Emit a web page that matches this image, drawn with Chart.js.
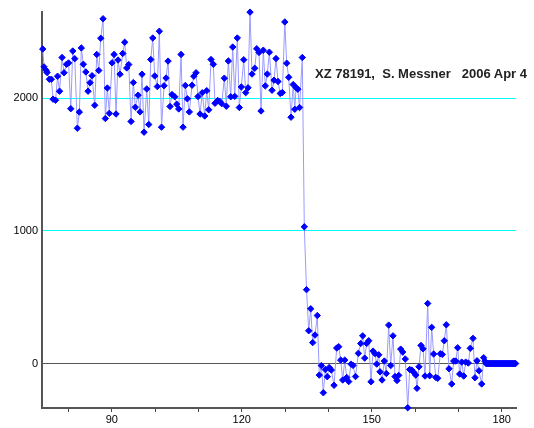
<!DOCTYPE html>
<html>
<head>
<meta charset="utf-8">
<script src="https://cdn.jsdelivr.net/npm/chart.js@4.4.1/dist/chart.umd.min.js"></script>
<style>
html, body { margin: 0; padding: 0; background: #fff; }
#wrap { position: relative; width: 534px; height: 428px; }
#note { position: absolute; left: 315px; top: 66px; font: bold 13px "Liberation Sans", Arial, sans-serif; color: #222; white-space: pre; }
</style>
</head>
<body>
<div id="wrap">
  <canvas id="lc" width="534" height="428"></canvas>
  <div id="note">XZ 78191,  S. Messner   2006 Apr 4</div>
</div>
<script>
var xVals = [
  74.07,74.37,74.84,75.07,75.6,76.06,76.45,77.03,77.49,77.95,
  78.53,78.99,79.57,80.03,80.54,81.0,81.46,82.06,82.52,82.98,
  83.44,84.02,84.53,84.99,85.45,86.07,86.54,87.0,87.46,87.99,
  88.52,88.98,89.44,90.07,90.53,90.99,91.45,91.91,92.54,92.99,
  93.46,93.92,94.45,94.98,95.44,96.07,96.53,96.99,97.45,98.07,
  98.54,99.0,99.46,99.92,100.52,100.98,101.49,102.07,102.53,102.99,
  103.45,103.91,104.54,105.0,105.46,105.99,106.45,106.98,107.44,107.91,
  108.53,108.94,109.45,109.91,110.37,110.9,111.46,111.92,112.38,112.91,
  113.44,113.83,114.46,114.92,115.38,115.98,116.44,116.91,117.46,117.92,
  118.38,118.98,119.44,119.91,120.46,120.92,121.45,121.91,122.37,123.0,
  123.46,123.99,124.45,124.98,125.44,125.9,126.37,126.99,127.45,127.91,
  128.37,128.9,129.37,129.94,130.38,130.84,131.37,131.88,132.25,132.53,
  132.94,133.34,133.98,134.44,134.95,
  135.46,135.92,136.38,136.91,137.44,137.9,138.37,138.83,139.29,139.75,
  140.21,140.68,141.3,141.92,142.38,142.84,143.31,143.77,144.23,144.69,
  145.22,145.68,146.26,146.91,147.46,147.92,148.38,148.84,149.31,149.84,
  150.3,150.76,151.15,151.62,151.91,152.38,152.91,153.37,153.92,154.38,
  154.91,155.38,155.84,156.23,156.69,157.15,157.75,158.31,158.77,159.23,
  159.69,160.15,160.45,160.91,161.37,161.84,162.3,162.92,163.38,163.84,
  164.3,164.77,165.23,165.83,166.29,166.75,167.21,167.84,168.46,168.92,
  169.38,169.84,170.3,170.77,171.23,171.69,172.29,172.75,173.37,173.83,
  174.3,174.76,175.38,175.84,176.15,
  176.4,176.6,176.8,177.0,177.2,177.4,177.6,177.8,178.0,178.2,
  178.4,178.6,178.8,179.0,179.2,179.4,179.6,179.8,180.0,180.2,
  180.4,180.6,180.8,181.0,181.2,181.4,181.6,181.8,182.0,182.2,
  182.4,182.6,182.8,183.0,183.2
];
var yVals = [
  2371,2236,2211,2194,2143,2143,1993,1985,2166,2053,
  2307,2192,2256,2266,1921,2356,2298,1774,1896,2379,
  2256,2198,2053,2117,2170,1947,2330,2209,2452,2599,
  1847,2077,1886,2267,2330,1881,2288,2181,2337,2422,
  2228,2254,1825,2118,1932,2023,1897,2181,1744,2070,
  1802,2292,2454,2168,2088,2505,1782,2094,2152,2280,
  1938,2028,2011,1955,1919,2330,1782,2096,1996,1897,
  2098,2166,2192,2013,1881,2042,1866,2057,1913,2292,
  2256,1962,1983,1976,1959,2151,1940,2281,2011,2386,
  2014,2454,1930,2085,2290,2042,2079,2649,2182,2226,
  2373,2345,1904,2362,2093,2182,2347,2060,2136,2299,
  2126,2036,2043,2575,2264,2158,1857,2103,1917,2081,
  2068,1930,2307,1031,557,
  247,413,158,215,362,-87,-15,-220,-45,-99,
  -29,-49,-164,117,127,26,-124,26,-105,-136,
  -4,-14,-98,77,151,209,41,152,172,-137,
  94,75,-4,66,-62,-124,19,-75,290,-15,
  209,-98,-128,-89,109,87,34,-333,-45,-49,
  -66,-87,-187,-24,137,111,-94,453,-92,273,
  72,-104,-111,74,69,172,292,-39,-154,19,
  19,119,-79,11,-94,11,4,115,190,-107,
  21,-54,-154,44,17,
  0,0,0,0,0,0,0,0,0,0,
  0,0,0,0,0,0,0,0,0,0,
  0,0,0,0,0,0,0,0,0,0,
  0,0,0,0,0
];
var xLabelled = [90, 120, 150, 180];
var yTicks = [0, 1000, 2000];

var pts = [];
for (var i = 0; i < xVals.length; i++) {
  pts.push({x: xVals[i], y: yVals[i]});
}

var ctx = document.getElementById('lc').getContext('2d');
var chart = new Chart(ctx, {
  type: 'scatter',
  data: {
    datasets: [{
      data: pts,
      showLine: true,
      borderColor: '#9a9aff',
      borderWidth: 1,
      pointStyle: 'rectRot',
      pointRadius: 3.2,
      pointBorderWidth: 1,
      pointBackgroundColor: '#0000ff',
      pointBorderColor: '#0000ff',
      clip: false
    }]
  },
  options: {
    responsive: false,
    animation: false,
    devicePixelRatio: 1,
    layout: { padding: { top: 12, right: 18, left: 0, bottom: 0 } },
    plugins: { legend: { display: false }, tooltip: { enabled: false } },
    scales: {
      x: {
        type: 'linear',
        min: 73.9,
        max: 183.3,
        afterFit: function(s) { s.height = 20; },
        grid: { drawOnChartArea: false, drawTicks: true, tickLength: 4, color: '#444' },
        border: { color: '#555', width: 2 },
        ticks: {
          stepSize: 10,
          includeBounds: false,
          autoSkip: false,
          maxRotation: 0,
          padding: 1,
          color: '#000',
          font: { family: '"Liberation Sans", Arial, sans-serif', size: 11 },
          callback: function(v) { return xLabelled.indexOf(v) >= 0 ? String(v) : ''; }
        }
      },
      y: {
        min: -335,
        max: 2650,
        afterFit: function(s) { s.width = 42; },
        afterBuildTicks: function(s) { s.ticks = yTicks.map(function(v) { return {value: v}; }); },
        grid: {
          drawTicks: false,
          lineWidth: 1,
          color: function(c) { return c.tick && c.tick.value === 0 ? '#555' : '#00ffff'; }
        },
        border: { color: '#555', width: 2 },
        ticks: {
          padding: 4,
          color: '#000',
          font: { family: '"Liberation Sans", Arial, sans-serif', size: 11 },
          callback: function(v) { return String(v); }
        }
      }
    }
  }
});
</script>
</body>
</html>
